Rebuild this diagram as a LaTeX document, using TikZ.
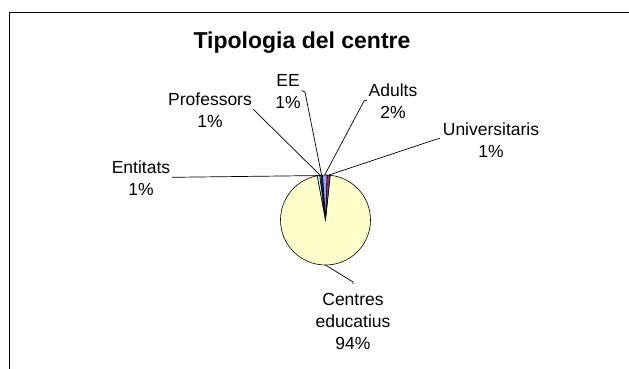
\documentclass[tikz,border=0pt]{standalone}
\usepackage{fontspec}
\setmainfont{Liberation Sans}
\begin{document}
\begin{tikzpicture}[x=1pt,y=-1pt,
  lbl/.style={inner sep=0pt,align=center,font=\fontsize{17.5}{22}\selectfont},
  leader/.style={draw=black,line width=0.7pt},
  slice/.style={draw=black,line width=0.6pt}]
\useasboundingbox (0,0) rectangle (629,368);
\fill[white] (0,0) rectangle (629,368);
% frame
\draw[line width=1.8pt,black] (9.5,370) -- (9.5,12.5) -- (632,12.5);
% title
\node[inner sep=0pt,font=\bfseries\fontsize{23}{26}\selectfont] (title) at (302,43) {Tipologia del centre};
% pie
\begin{scope}[shift={(325.5,220)},yscale=-1]
  \filldraw[slice,fill={rgb,255:red,255;green,255;blue,204}] (0,0) -- (100.5:45) arc (100.5:444:45) -- cycle;
  \filldraw[slice,fill={rgb,255:red,153;green,51;blue,102}] (0,0) -- (84:45) arc (84:88:45) -- cycle;
  \filldraw[slice,fill={rgb,255:red,153;green,153;blue,255}] (0,0) -- (88:45) arc (88:94:45) -- cycle;
  \filldraw[slice,fill={rgb,255:red,51;green,51;blue,153}] (0,0) -- (94:45) arc (94:96:45) -- cycle;
  \filldraw[slice,fill=white] (0,0) -- (96:45) arc (96:97.5:45) -- cycle;
  \filldraw[slice,fill={rgb,255:red,204;green,255;blue,255}] (0,0) -- (97.5:45) arc (97.5:100.5:45) -- cycle;
  \coordinate (pUni) at (86:45);
  \coordinate (pAdu) at (91:45);
  \coordinate (pEE) at (95:45);
  \coordinate (pPro) at (96.7:45);
  \coordinate (pEnt) at (99:45);
  \coordinate (pCen) at (-90:45);
\end{scope}
% labels
\node[lbl] (ee) at (288,92) {EE\\1\%};
\node[lbl] (prof) at (210,110.5) {Professors\\1\%};
\node[lbl] (adu) at (393,101.5) {Adults\\2\%};
\node[lbl] (uni) at (491,140) {Universitaris\\1\%};
\node[lbl] (ent) at (141,178) {Entitats\\1\%};
\node[lbl] (cen) at (353,321) {Centres\\educatius\\94\%};
% leader start points
\coordinate (lEE) at (301.5,90.5);
\coordinate (lEEb) at (305,92);
\coordinate (lPro) at (253,109);
\coordinate (lAdu) at (367,100);
\coordinate (lAdub) at (364,101);
\coordinate (lUni) at (440,138.3);
\coordinate (lUnib) at (434,140);
\coordinate (lEnt) at (172,177.3);
\coordinate (lCen) at (353,284);
\coordinate (lCenb) at (353,282);
% leaders
\draw[leader] (lEE) -- (lEEb) -- (pEE);
\draw[leader] (lPro) -- (pPro);
\draw[leader] (lAdu) -- (lAdub) -- (pAdu);
\draw[leader] (lUni) -- (lUnib) -- (pUni);
\draw[leader] (lEnt) -- (pEnt);
\draw[leader] (lCen) -- (lCenb) -- (pCen);
\end{tikzpicture}
\end{document}
